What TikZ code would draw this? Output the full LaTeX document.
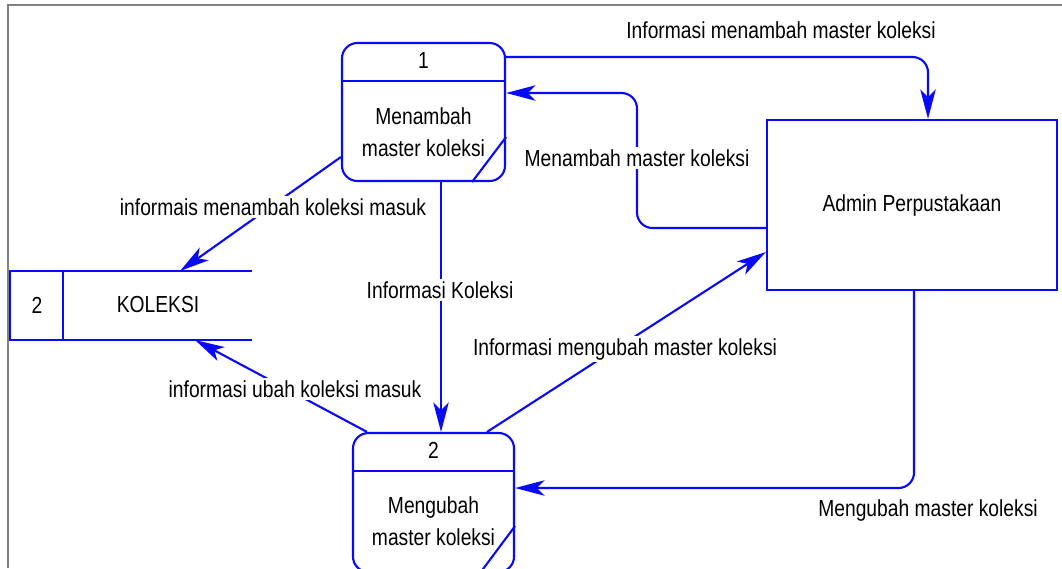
\documentclass[tikz,border=0pt]{standalone}
\usepackage{fontspec}
\setmainfont{Liberation Sans}[FakeStretch=0.83]
\usetikzlibrary{arrows.meta, positioning}
\definecolor{dfdblue}{RGB}{10,10,250}
\tikzset{
    procnode/.style = {draw=dfdblue, line width=1.5pt, rectangle, rounded corners=11pt,
      minimum width=4.075cm, minimum height=3.45cm, inner sep=0pt},
    entitynode/.style = {draw=dfdblue, line width=1.5pt, rectangle,
      minimum width=7.25cm, minimum height=4.25cm, font=\fontsize{16.5}{19}\selectfont},
    textnode/.style = {draw=none, fill=none, rectangle, inner sep=0.1em,
      font=\fontsize{16.5}{19}\selectfont},
    proctextnode/.style = {textnode, font=\fontsize{16.5}{22.5}\selectfont},
    labelnode/.style = {textnode, fill=white, inner sep=0.15em},
    partline/.style = {dfdblue, line width=1.5pt},
    connect/.style = {dfdblue, line width=1.5pt, rounded corners=11pt,
      -{Stealth[length=21pt, width=11pt, inset=5.5pt]}},
    every text node part/.style={align=center}
}

\begin{document}
\begin{tikzpicture}[x=0.025cm, y=-0.025cm]
\useasboundingbox (0,0) rectangle (1062,568);
% frame
\draw[gray, line width=1.4pt] (8,568) -- (8,5) -- (1062,5);

% processes
\node[procnode, name=p1] at (423.5,112) {};
\draw[partline] (p1.west |- 0,81) -- (p1.east |- 0,81);
\draw[partline] (p1.east |- 0,137) -- (p1.south -| 472,0);
\node[textnode, name=p1num] at (423.5,61) {1};
\node[proctextnode, name=p1txt] at (423.5,132) {Menambah\\master koleksi};

\node[procnode, name=p2, minimum width=4.025cm, minimum height=3.475cm] at (433.5,502.5) {};
\draw[partline] (p2.west |- 0,471) -- (p2.east |- 0,471);
\draw[partline] (p2.east |- 0,526) -- (p2.south -| 480,0);
\node[textnode, name=p2num] at (433.5,450) {2};
\node[proctextnode, name=p2txt] at (433.5,521) {Mengubah\\master koleksi};

% data store
\node[name=store, minimum width=6.05cm, minimum height=1.725cm, inner sep=0pt] at (131,305.5) {};
\draw[partline] (store.north east) -- (store.north west) -- (store.south west) -- (store.south east);
\draw[partline] (store.north west -| 63,0) -- (store.south west -| 63,0);
\node[textnode, name=storenum] at (37,305) {2};
\node[textnode, name=storetxt] at (158,305) {KOLEKSI};
\coordinate (storein) at (180,271);
\coordinate (storeout) at (195,340);

% external entity
\node[entitynode, name=admin] at (912,205) {Admin Perpustakaan};

% flows
\draw[connect] (p1.east |- 0,57) -- (928,57) -- (admin.north -| 928,0);
\node[textnode, name=l1] at (781,30) {Informasi menambah master koleksi};

\draw[connect] (admin.west |- 0,228) -- (637,228) -- (637,93) -- (p1.east |- 0,93);
\node[labelnode, name=l2] at (637,158) {Menambah master koleksi};

\draw[connect] (p1.west |- 0,157) -- (storein);
\node[labelnode, name=l3] at (273,207) {informais menambah koleksi masuk};

\draw[connect] (p1.south -| 441,0) -- (p2.north -| 441,0);
\node[labelnode, name=l4] at (440,290) {Informasi Koleksi};

\draw[connect] (p2.north -| 367,0) -- (storeout);
\node[labelnode, name=l5] at (295,389) {informasi ubah koleksi masuk};

\draw[connect] (p2.north -| 487,0) -- (admin.west |- 0,252);
\node[labelnode, name=l6] at (625,349) {Informasi mengubah master koleksi};

\draw[connect] (admin.south -| 914,0) -- (914,488) -- (p2.east |- 0,488);
\node[textnode, name=l7] at (928,510) {Mengubah master koleksi};
\end{tikzpicture}
\end{document}
